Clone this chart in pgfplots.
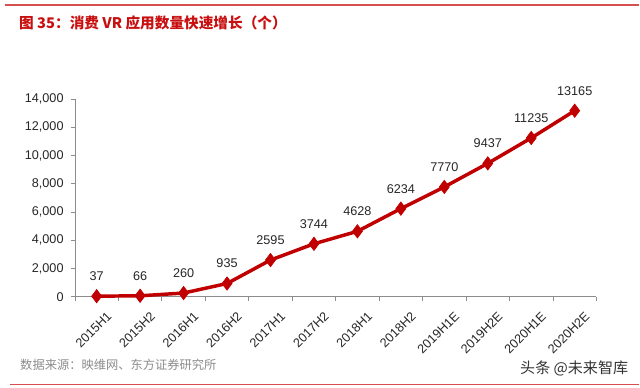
\documentclass[border=0pt]{standalone}
\usepackage{fontspec}
\setmainfont{Liberation Sans}
\newfontfamily\cjk{Noto Sans CJK SC}
\usepackage{pgfplots}
\pgfplotsset{compat=1.18}
\definecolor{linered}{RGB}{192,0,0}
\definecolor{titlered}{RGB}{200,16,16}
\definecolor{rulered}{RGB}{214,80,80}
\definecolor{axgray}{RGB}{140,140,140}
\begin{document}
\begin{tikzpicture}[x=0.75pt,y=0.75pt]
\path (0,0) rectangle (640,388);
\draw[rulered, line width=0.9pt] (5,383) -- (640,383);
\draw[rulered, line width=0.9pt] (10,3) -- (640,3);
\node[anchor=west, text=titlered, inner sep=0pt] at (19,365) {\cjk\bfseries\fontsize{11}{12}\selectfont 图 35：消费 VR 应用数量快速增长（个）};
\node[anchor=west, text=black!45, inner sep=0pt] at (20,23) {\cjk\fontsize{9.2}{10}\selectfont 数据来源：映维网、东方证券研究所};
\node[anchor=east, text=black!80, inner sep=0pt] at (629,19) {\cjk\fontsize{11.3}{12}\selectfont 头条 @未来智库};
\begin{axis}[
  at={(56.25pt,68.25pt)}, anchor=south west,
  scale only axis, width=391.5pt, height=148.5pt,
  xmin=-0.5, xmax=11.5, ymin=0, ymax=14000,
  axis x line*=bottom, axis y line*=left,
  axis line style={axgray, line width=0.6pt},
  xtick={0,...,11},
  xticklabels={2015H1,2015H2,2016H1,2016H2,2017H1,2017H2,2018H1,2018H2,2019H1E,2019H2E,2020H1E,2020H2E},
  minor xtick={-0.5,0.5,...,11.5},
  major x tick style={draw=none},
  minor x tick style={axgray, line width=0.6pt},
  ytick={0,2000,...,14000},
  y tick style={axgray, line width=0.6pt},
  tick align=outside, major tick length=3pt, minor tick length=3pt,
  /pgf/number format/.cd, 1000 sep={,}, assume math mode=true, /pgfplots/.cd,
  scaled y ticks=false,
  tick label style={font=\fontsize{9.5}{11}\selectfont, text=black!85},
  xticklabel style={rotate=45, anchor=north east, xshift=3pt, yshift=-7pt},
  yticklabel style={xshift=-2pt},
  clip=false,
  nodes near coords={\pgfmathprintnumber[1000 sep={}]{\pgfplotspointmeta}},
  every node near coord/.style={font=\fontsize{9.5}{11}\selectfont, text=black!85, anchor=center, yshift=15pt},
]
\addplot[linered, line width=2.6pt, mark=diamond*, mark size=5pt, mark options={fill=linered, draw=linered, line width=0.5pt}]
coordinates {(0,37) (1,66) (2,260) (3,935) (4,2595) (5,3744) (6,4628) (7,6234) (8,7770) (9,9437) (10,11235) (11,13165)};
\end{axis}
\end{tikzpicture}
\end{document}
